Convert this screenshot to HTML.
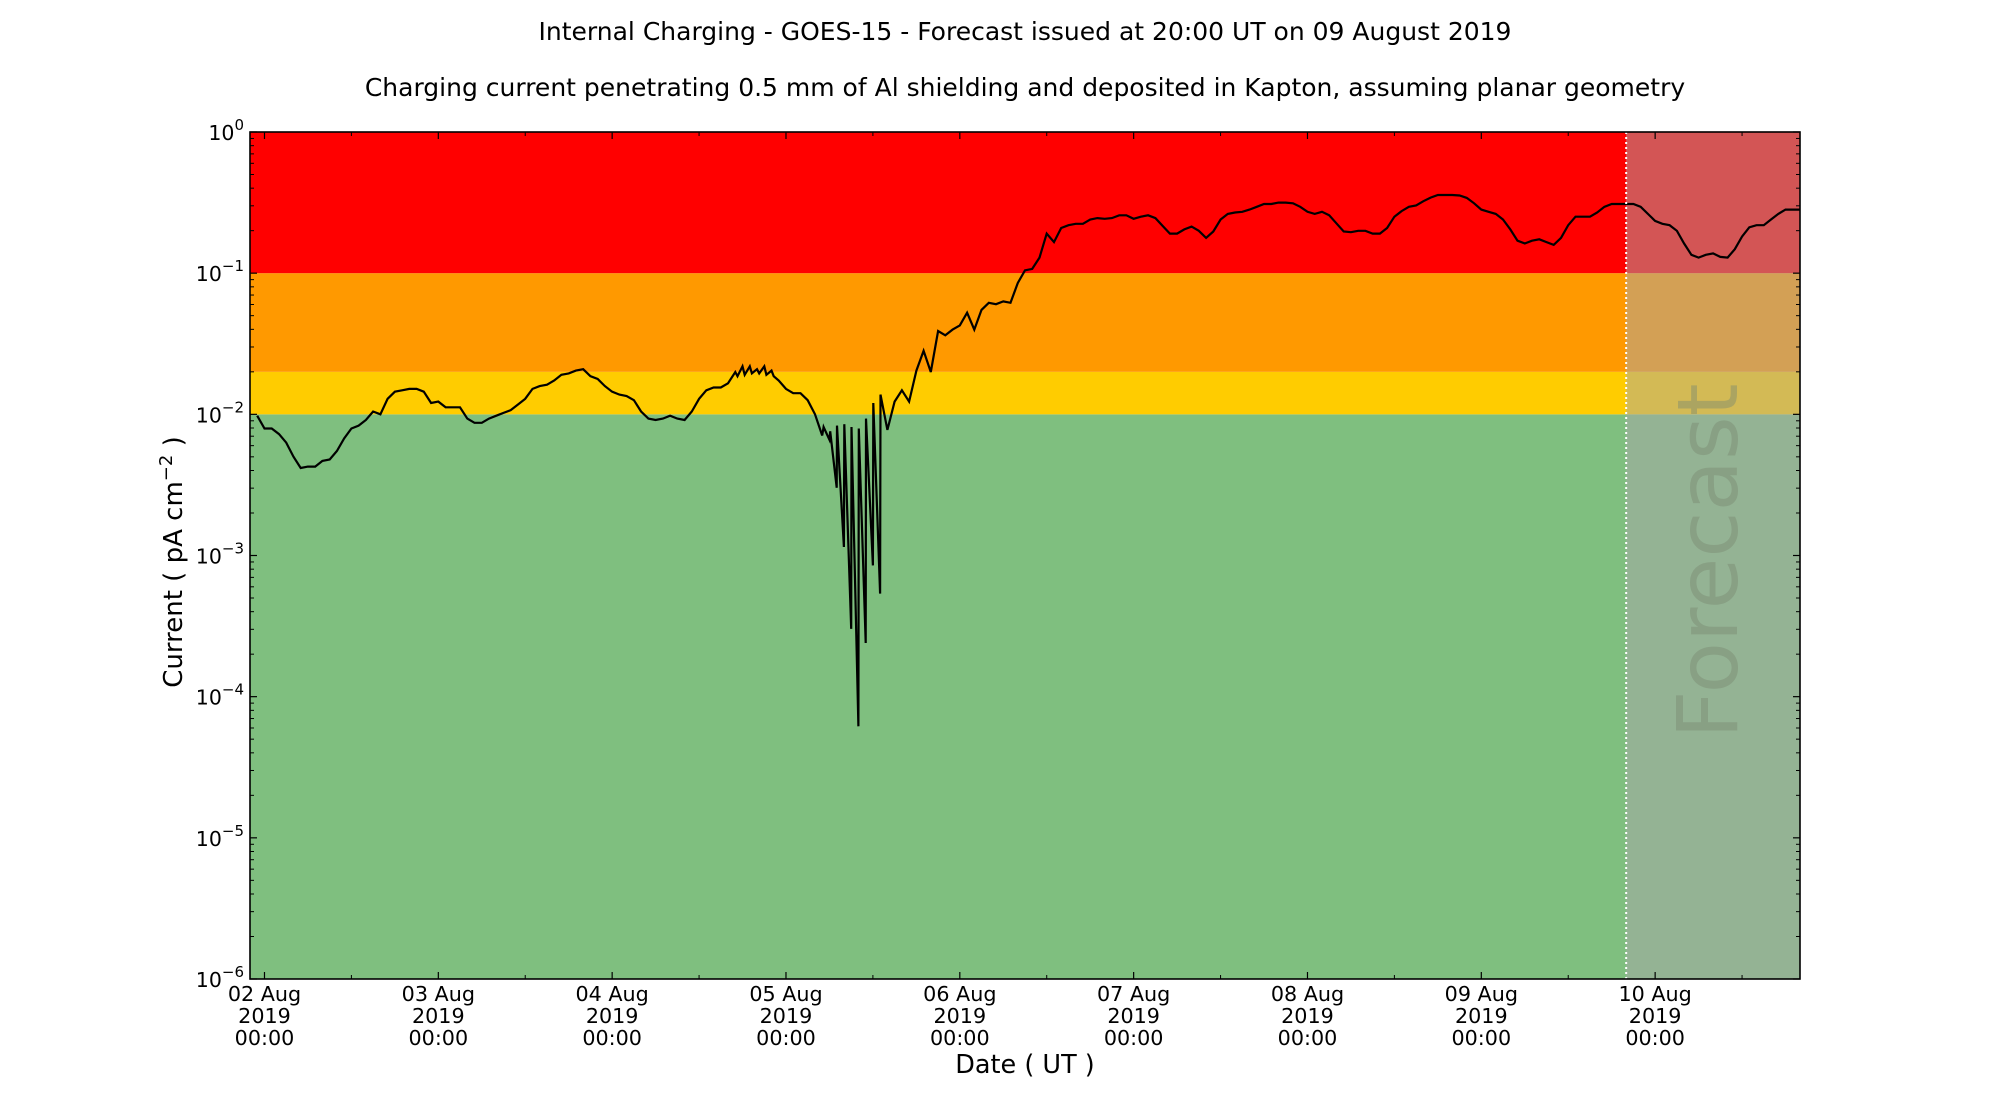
<!DOCTYPE html>
<html><head><meta charset="utf-8"><style>
html,body{margin:0;padding:0;background:#fff;}
svg{display:block;font-family:"DejaVu Sans","Liberation Sans",sans-serif;}
</style></head><body>
<svg id="chart" width="2000" height="1100" viewBox="0 0 2000 1100" xmlns="http://www.w3.org/2000/svg">
<text x="1025" y="40" font-size="25" text-anchor="middle" fill="#000">Internal Charging - GOES-15 - Forecast issued at 20:00 UT on 09 August 2019</text>
<text x="1025" y="96" font-size="25" text-anchor="middle" fill="#000">Charging current penetrating 0.5 mm of Al shielding and deposited in Kapton, assuming planar geometry</text>
<g id="plot"></g>
<text transform="translate(182,562) rotate(-90)" font-size="26" text-anchor="middle">Current ( pA cm<tspan dy="-10" font-size="18">−2</tspan><tspan dy="10"> )</tspan></text>
<text x="1025" y="1073" font-size="25.5" text-anchor="middle">Date ( UT )</text>
</svg>
<script>
// hours relative to 02 Aug 2019 00:00 UT
const hours = [-1,0,1,2,3,4,5,6,7,8,9,10,11,12,13,14,15,16,17,18,19,20,21,22,23,24,25,26,27,28,29,30,31,32,33,34,35,36,37,38,39,40,41,42,43,44,45,46,47,48,49,50,51,52,53,54,55,56,57,58,59,60,61,62,63,64,65,65.3,66,66.3,67,67.3,68,68.3,69,69.3,70,70.3,71,72,73,74,75,76,77,77.2,78,78.1,79,79.05,80,80.05,81,81.05,82,82.05,83,83.05,84,84.05,85,85.05,86,87,88,89,90,91,92,93,94,95,96,97,98,99,100,101,102,103,104,105,106,107,108,109,110,111,112,113,114,115,116,117,118,119,120,121,122,123,124,125,126,127,128,129,130,131,132,133,134,135,136,137,138,139,140,141,142,143,144,145,146,147,148,149,150,151,152,153,154,155,156,157,158,159,160,161,162,163,164,165,166,167,168,169,170,171,172,173,174,175,176,177,178,179,180,181,182,183,184,185,186,187,188,189,190,191,192,193,194,195,196,197,198,199,200,201,202,203,204,205,206,207,208,209,210,211,212];
// log10 of current (pA cm^-2)
const logCurrent = [-2.01,-2.10,-2.10,-2.14,-2.20,-2.30,-2.38,-2.37,-2.37,-2.33,-2.32,-2.26,-2.17,-2.10,-2.08,-2.04,-1.98,-2.00,-1.89,-1.84,-1.83,-1.82,-1.82,-1.84,-1.92,-1.91,-1.95,-1.95,-1.95,-2.03,-2.06,-2.06,-2.03,-2.01,-1.99,-1.97,-1.93,-1.89,-1.82,-1.80,-1.79,-1.76,-1.72,-1.71,-1.69,-1.68,-1.73,-1.75,-1.80,-1.84,-1.86,-1.87,-1.90,-1.98,-2.03,-2.04,-2.03,-2.01,-2.03,-2.04,-1.98,-1.89,-1.83,-1.81,-1.81,-1.78,-1.70,-1.73,-1.66,-1.72,-1.66,-1.71,-1.68,-1.71,-1.66,-1.72,-1.69,-1.73,-1.76,-1.82,-1.85,-1.85,-1.90,-2.00,-2.15,-2.09,-2.18,-2.12,-2.52,-2.08,-2.94,-2.07,-3.52,-2.09,-4.21,-2.10,-3.62,-2.03,-3.07,-1.92,-3.27,-1.86,-2.11,-1.91,-1.83,-1.91,-1.69,-1.55,-1.70,-1.41,-1.44,-1.40,-1.37,-1.28,-1.40,-1.26,-1.21,-1.22,-1.20,-1.21,-1.07,-0.98,-0.97,-0.89,-0.72,-0.78,-0.68,-0.66,-0.65,-0.65,-0.62,-0.61,-0.615,-0.61,-0.59,-0.59,-0.615,-0.60,-0.59,-0.61,-0.665,-0.72,-0.72,-0.69,-0.67,-0.70,-0.75,-0.705,-0.62,-0.58,-0.57,-0.565,-0.55,-0.53,-0.51,-0.51,-0.50,-0.50,-0.505,-0.53,-0.565,-0.58,-0.565,-0.59,-0.647,-0.705,-0.71,-0.70,-0.70,-0.72,-0.72,-0.68,-0.60,-0.56,-0.53,-0.52,-0.49,-0.465,-0.446,-0.446,-0.446,-0.45,-0.467,-0.505,-0.55,-0.565,-0.58,-0.62,-0.69,-0.77,-0.79,-0.77,-0.76,-0.78,-0.80,-0.75,-0.66,-0.60,-0.60,-0.60,-0.57,-0.53,-0.51,-0.51,-0.51,-0.51,-0.53,-0.58,-0.63,-0.65,-0.66,-0.70,-0.79,-0.87,-0.89,-0.87,-0.86,-0.885,-0.89,-0.83,-0.74,-0.675,-0.66,-0.66,-0.62,-0.58,-0.55,-0.55,-0.55];
const bandEdges = [-6,-2,-1.699,-1,0];
const bandColors = ['#7fbf7f','#ffcc00','#ff9900','#ff0000'];
const dayLabels = ['02 Aug','03 Aug','04 Aug','05 Aug','06 Aug','07 Aug','08 Aug','09 Aug','10 Aug'];
const yTickExps = [0,-1,-2,-3,-4,-5,-6];
const xDomain = [-2, 212];
const forecastHour = 188;

const NS='http://www.w3.org/2000/svg';
const L=250,R=1800,T=132,B=979;
const xs = h => L + (h - xDomain[0]) / (xDomain[1]-xDomain[0]) * (R-L);
const ys = lg => T + (0 - lg) / 6 * (B-T);
const g=document.getElementById('plot');
function mk(tag,attrs,parent){const e=document.createElementNS(NS,tag);for(const k in attrs)e.setAttribute(k,attrs[k]);(parent||g).appendChild(e);return e;}

for(let i=0;i<bandColors.length;i++){
  const r=mk('rect',{x:L,y:ys(bandEdges[i+1]),width:R-L,height:ys(bandEdges[i])-ys(bandEdges[i+1]),fill:bandColors[i]});
  
  
}
const fx=xs(forecastHour);
const ov=mk('rect',{x:fx,y:T,width:R-fx,height:B-T,fill:'rgb(168,168,168)','fill-opacity':0.506});


const ft=mk('text',{transform:`translate(${(fx+R)/2+24},561) rotate(-90)`,'font-size':84,'text-anchor':'middle',fill:'#7a8a70','fill-opacity':0.45});
ft.textContent='Forecast';



let d='';
hours.forEach((h,i)=>{d+=(i?'L':'M')+xs(h).toFixed(1)+' '+ys(logCurrent[i]).toFixed(1);});
const ln=mk('path',{d:d,fill:'none',stroke:'#000','stroke-width':2.2,'stroke-linejoin':'miter'});



const fl=mk('line',{x1:fx,x2:fx,y1:T,y2:B,stroke:'#fff','stroke-width':2,'stroke-dasharray':'2,3'});



const fr=mk('rect',{x:L,y:T,width:R-L,height:B-T,fill:'none',stroke:'#000','stroke-width':1.6});



yTickExps.forEach(e=>{
  const y=ys(e);
  mk('line',{x1:L,x2:L+7,y1:y,y2:y,stroke:'#000','stroke-width':1.2});
  mk('line',{x1:R,x2:R-7,y1:y,y2:y,stroke:'#000','stroke-width':1.2});
  if(e>-6){for(let m=2;m<=9;m++){const yy=ys(e-1+Math.log10(m));
    mk('line',{x1:L,x2:L+4,y1:yy,y2:yy,stroke:'#000','stroke-width':1});
    mk('line',{x1:R,x2:R-4,y1:yy,y2:yy,stroke:'#000','stroke-width':1});}}
  const t=mk('text',{x:244,y:y+8,'font-size':20.5,'text-anchor':'end'});
  
  
  t.innerHTML='10<tspan dy="-10" font-size="15">'+(e===0?'0':'−'+(-e))+'</tspan>';
});
dayLabels.forEach((lab,i)=>{
  const x=xs(i*24);
  mk('line',{x1:x,x2:x,y1:B,y2:B-7,stroke:'#000','stroke-width':1.2});
  mk('line',{x1:x,x2:x,y1:T,y2:T+7,stroke:'#000','stroke-width':1.2});
  const xm=xs(i*24+12);
  if(xm<R){mk('line',{x1:xm,x2:xm,y1:B,y2:B-4,stroke:'#000','stroke-width':1});mk('line',{x1:xm,x2:xm,y1:T,y2:T+4,stroke:'#000','stroke-width':1});}
  const t=mk('text',{x:x,y:1000,'font-size':20.7,'text-anchor':'middle'});
  
  
  t.innerHTML=`<tspan x="${x}" y="1001">${lab}</tspan><tspan x="${x}" y="1023">2019</tspan><tspan x="${x}" y="1045">00:00</tspan>`;
});
</script>
</body></html>
